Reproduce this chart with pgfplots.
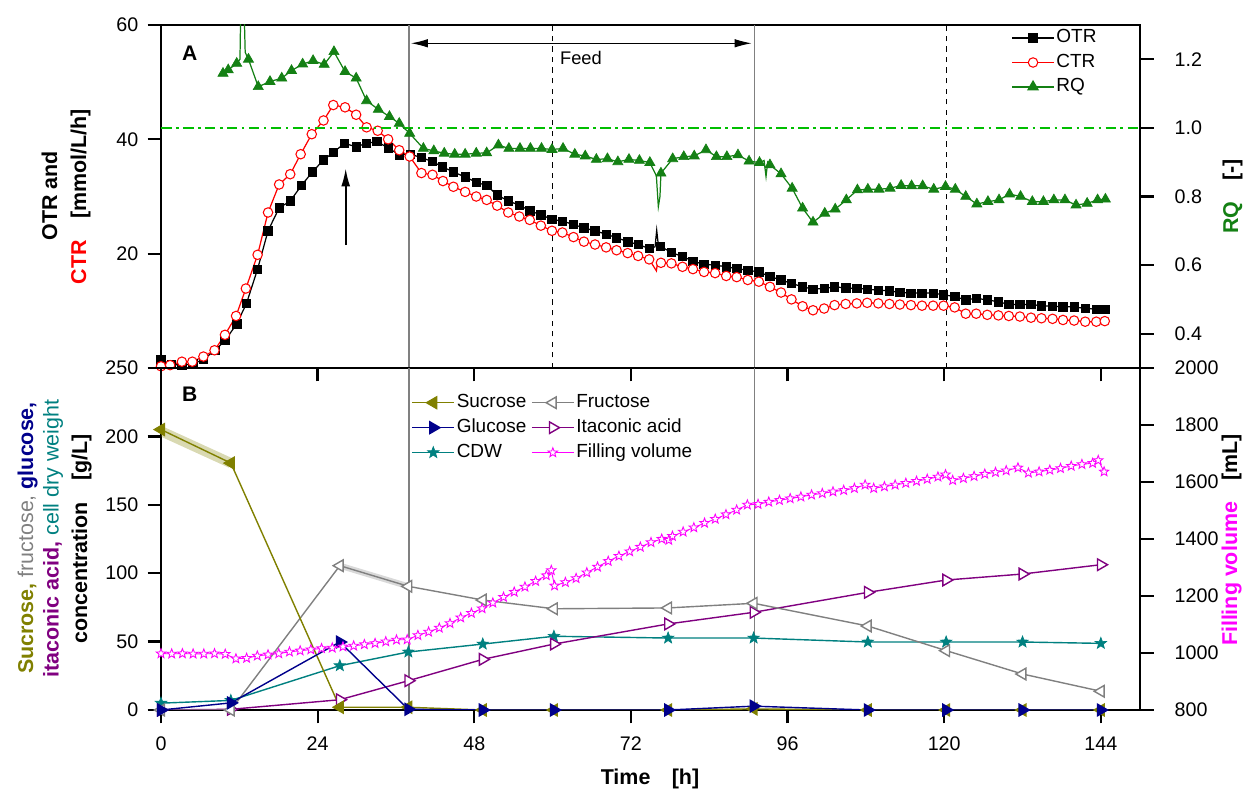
\documentclass[border=0pt]{standalone}
\usepackage{fontspec}
\setmainfont{Liberation Sans}
\usepackage{pgfplots}
\pgfplotsset{compat=1.18}
\usepackage{pgfplotstable}
\usetikzlibrary{arrows.meta,plotmarks}

\definecolor{rqgreen}{RGB}{20,128,20}
\definecolor{refgreen}{RGB}{0,190,0}
\definecolor{olivec}{RGB}{128,128,0}
\definecolor{grayc}{RGB}{128,128,128}
\definecolor{navyc}{RGB}{0,0,139}
\definecolor{purplec}{RGB}{128,0,128}
\definecolor{tealc}{RGB}{0,128,128}
\definecolor{magc}{RGB}{255,0,255}

\pgfdeclareplotmark{fivestar}{%
  \pgfpathmoveto{\pgfpointpolar{90}{\pgfplotmarksize}}%
  \pgfpathlineto{\pgfpointpolar{126}{0.42\pgfplotmarksize}}%
  \pgfpathlineto{\pgfpointpolar{162}{\pgfplotmarksize}}%
  \pgfpathlineto{\pgfpointpolar{198}{0.42\pgfplotmarksize}}%
  \pgfpathlineto{\pgfpointpolar{234}{\pgfplotmarksize}}%
  \pgfpathlineto{\pgfpointpolar{270}{0.42\pgfplotmarksize}}%
  \pgfpathlineto{\pgfpointpolar{306}{\pgfplotmarksize}}%
  \pgfpathlineto{\pgfpointpolar{342}{0.42\pgfplotmarksize}}%
  \pgfpathlineto{\pgfpointpolar{18}{\pgfplotmarksize}}%
  \pgfpathlineto{\pgfpointpolar{54}{0.42\pgfplotmarksize}}%
  \pgfpathclose
  \pgfusepathqfillstroke}

\pgfplotstableread{
t v m
0 1.4 1
1.6 0.6 1
3.2 0.5 1
4.9 0.7 1
6.5 1.5 1
8.3 3.1 1
9.8 4.8 1
11.6 7.7 1
13.1 11.3 1
14.8 17.3 1
16.4 24.0 1
18.1 28.0 1
19.8 29.2 1
21.5 31.9 1
23.2 34.3 1
24.9 36.4 1
26.4 37.7 1
28.1 39.3 1
29.9 38.7 1
31.5 39.3 1
33.1 39.6 1
34.8 38.5 1
36.5 37.3 1
38.2 37.4 1
39.9 36.8 1
41.6 36.1 1
43.1 35.2 1
44.8 34.3 1
46.6 33.4 1
48.3 32.5 1
49.9 31.9 1
51.5 30.3 1
53.2 29.2 1
54.9 28.5 1
56.5 27.5 1
58.2 26.8 1
59.9 26.0 1
61.5 25.7 1
63.2 25.1 1
64.8 24.5 1
66.5 24.0 1
68.2 23.4 1
69.8 22.8 1
71.5 22.1 1
73.1 21.6 1
74.8 20.9 1
75.7 21.2 0
75.95 24.1 0
76.2 21.5 0
76.5 21.3 1
78.2 20.2 1
79.9 19.5 1
81.5 18.7 1
83.2 18.1 1
84.9 18.0 1
86.6 17.7 1
88.2 17.4 1
89.9 17.1 1
91.6 16.8 1
93.3 16.0 1
95.0 15.4 1
96.6 14.8 1
98.3 14.2 1
99.9 13.8 1
101.6 13.9 1
103.2 14.2 1
104.9 14.0 1
106.6 13.9 1
108.2 13.8 1
109.9 13.6 1
111.6 13.5 1
113.2 13.2 1
114.9 13.1 1
116.6 13.1 1
118.3 13.1 1
119.9 12.8 1
121.6 12.5 1
123.3 11.9 1
124.9 12.2 1
126.6 11.9 1
128.3 11.6 1
129.9 11.1 1
131.6 11.1 1
133.3 11.1 1
134.9 10.9 1
136.6 10.8 1
138.2 10.7 1
139.9 10.7 1
141.6 10.4 1
143.3 10.3 1
144.6 10.3 1
}\otr

\pgfplotstableread{
t v m
0 0.3 1
1.4 0.5 1
3.2 1.1 1
4.8 1.1 1
6.5 2.0 1
8.2 3.1 1
9.8 5.8 1
11.5 9.1 1
13.0 13.9 1
14.8 19.8 1
16.4 27.2 1
18.1 32.1 1
19.8 33.9 1
21.4 37.4 1
23.1 40.9 1
24.9 43.3 1
26.4 46.0 1
28.2 45.6 1
29.9 44.3 1
31.5 42.1 1
33.2 41.5 1
34.8 40.0 1
36.5 38.1 1
38.1 37.0 1
39.9 34.1 1
41.6 33.8 1
43.2 32.7 1
44.8 31.7 1
46.6 30.8 1
48.3 30.0 1
49.9 29.4 1
51.5 28.4 1
53.2 27.2 1
54.9 26.5 1
56.5 25.9 1
58.2 24.9 1
59.9 24.0 1
61.5 23.7 1
63.2 22.9 1
64.8 22.1 1
66.5 21.6 1
68.2 21.1 1
69.8 20.6 1
71.5 20.1 1
73.1 19.6 1
74.8 19.0 1
75.9 17.0 0
76.1 18.6 0
76.6 18.4 1
78.2 18.3 1
79.9 17.7 1
81.5 17.3 1
83.2 16.8 1
84.9 16.6 1
86.6 16.1 1
88.2 15.9 1
89.9 15.4 1
91.6 15.1 1
93.3 14.2 1
95.0 13.2 1
96.6 12.0 1
98.3 10.8 1
99.9 10.1 1
101.6 10.4 1
103.2 11.0 1
104.9 11.2 1
106.6 11.3 1
108.2 11.4 1
109.9 11.3 1
111.6 11.2 1
113.2 11.1 1
114.9 11.0 1
116.6 10.9 1
118.3 10.9 1
119.9 10.9 1
121.6 10.6 1
123.3 9.5 1
124.9 9.5 1
126.6 9.3 1
128.3 9.2 1
129.9 9.1 1
131.6 9.0 1
133.3 8.8 1
134.9 8.7 1
136.6 8.6 1
138.2 8.4 1
139.9 8.3 1
141.6 8.1 1
143.3 8.1 1
144.6 8.2 1
}\ctr

\pgfplotstableread{
t v m
9.5 1.159 1
10.3 1.169 1
11.6 1.188 1
12.1 1.20 0
12.3 1.45 0
12.6 1.45 0
12.9 1.22 0
13.4 1.200 1
14.9 1.120 1
16.7 1.135 1
18.5 1.145 1
20.0 1.167 1
21.7 1.186 1
23.3 1.196 1
25.0 1.185 1
26.5 1.222 1
28.2 1.164 1
29.9 1.145 1
31.5 1.079 1
33.3 1.054 1
35.0 1.033 1
36.5 1.013 1
38.1 0.984 1
40.2 0.940 1
41.8 0.933 1
43.4 0.926 1
45.0 0.923 1
46.6 0.923 1
48.3 0.926 1
49.9 0.927 1
51.7 0.950 1
53.3 0.940 1
55.0 0.940 1
56.6 0.940 1
58.3 0.940 1
59.9 0.937 1
61.6 0.940 1
63.4 0.923 1
65.0 0.918 1
66.7 0.908 1
68.4 0.910 1
70.0 0.901 1
71.7 0.908 1
73.3 0.905 1
74.9 0.899 1
75.9 0.860 0
76.2 0.770 0
76.45 0.800 0
76.6 0.868 1
78.4 0.910 1
80.1 0.916 1
81.7 0.918 1
83.5 0.936 1
85.1 0.916 1
86.7 0.916 1
88.4 0.921 1
90.1 0.903 1
91.7 0.899 1
92.4 0.905 0
92.7 0.858 0
92.95 0.900 0
93.3 0.892 1
95.0 0.866 1
96.7 0.824 1
98.3 0.766 1
99.9 0.725 1
101.7 0.751 1
103.3 0.763 1
105.0 0.790 1
106.7 0.819 1
108.3 0.821 1
110.0 0.821 1
111.7 0.824 1
113.4 0.832 1
115.0 0.831 1
116.7 0.831 1
118.4 0.821 1
120.2 0.829 1
121.7 0.821 1
123.3 0.800 1
125.0 0.778 1
126.7 0.785 1
128.4 0.790 1
130.0 0.807 1
131.7 0.800 1
133.5 0.785 1
135.2 0.785 1
136.8 0.790 1
138.5 0.790 1
140.2 0.775 1
141.9 0.780 1
143.5 0.790 1
144.7 0.792 1
}\rq

\pgfplotstableread{
t suc fru glc ita cdw
0 205 0 0 0 5
10.7 180.5 0 5.2 0.5 7
27.4 2 105.5 49.7 7.5 32.4
37.9 2 90.4 0.5 21.4 42.4
49.3 0 80.4 0 37 48.2
60.2 0 74 0 48.2 53.9
77.7 0 74.6 0 62.9 52.6
90.8 0.8 78 2.8 71.4 52.6
108.3 0 61.4 0 86 49.7
120.3 0 43.4 0 95 49.7
132 0 26.3 0 99.4 49.7
144 0 13.7 0 106.2 48.7
}\samples

\pgfplotstableread{
t v
0 998
1.64 997
3.28 998
4.92 997
6.56 997
8.2 998
9.84 996
11.48 980
13.12 982
14.76 990
16.4 994
18.04 998
19.68 1004
21.32 1008
22.96 1012
24.6 1016
26.24 1018
27.88 1022
29.52 1025
31.16 1030
32.8 1034
34.44 1040
36.08 1046
37.72 1047
39.36 1062
41.0 1074
42.64 1088
44.28 1104
45.92 1124
47.56 1140
49.2 1156
50.84 1176
52.48 1196
54.12 1214
55.76 1232
57.4 1252
59.04 1272
59.8 1290
60.3 1236
61.96 1248
63.6 1262
65.24 1282
66.88 1302
68.52 1322
70.16 1340
71.8 1356
73.44 1372
75.08 1388
76.72 1400
77.8 1396
78.36 1410
80.0 1425
81.64 1440
83.28 1456
84.92 1470
86.56 1486
88.2 1502
89.84 1520
91.48 1522
93.12 1530
94.76 1536
96.4 1542
98.04 1548
99.68 1555
101.32 1560
102.96 1566
104.6 1571
106.24 1578
107.88 1590
109.2 1578
110.84 1584
112.48 1590
114.12 1596
115.76 1603
117.4 1610
119.04 1618
120.2 1626
121.3 1606
122.94 1613
124.58 1620
126.22 1628
127.86 1634
129.5 1640
131.3 1650
132.9 1632
134.54 1636
136.18 1642
137.82 1648
139.46 1656
141.1 1662
142.74 1666
143.6 1676
144.5 1636
}\fill

\pgfplotsset{
  every axis/.append style={
    scale only axis, width=19.58cm, xmin=0, xmax=150,
    tick align=outside, major tick length=0.27cm,
    axis line style={line width=1.3pt},
    every tick/.style={line width=1.3pt, black},
    tick label style={font=\fontsize{11.2}{13}\selectfont},
    /pgf/number format/assume math mode=true,
    /pgf/number format/1000 sep={},
    minor tick num=0,
    legend image code/.code={\draw[mark repeat=2,mark phase=2] plot coordinates {(0cm,0cm)(0.42cm,0cm)(0.84cm,0cm)};},
  },
  otrl/.style={black, line width=0.7pt},
  otrm/.style={black, mark=square*, mark size=2.4pt, mark options={solid, fill=black}},
  ctrl/.style={red, line width=0.7pt},
  ctrm/.style={red, mark=*, mark size=2.7pt, mark options={solid, fill=white, draw=red, line width=0.6pt}},
  rql/.style={rqgreen, line width=0.7pt},
  rqm/.style={rqgreen, mark=triangle*, mark size=3.3pt, mark options={solid, fill=rqgreen}},
  sucs/.style={olivec, line width=0.8pt, mark=triangle*, mark size=3.8pt, mark options={rotate=90, fill=olivec}},
  frus/.style={grayc, line width=0.8pt, mark=triangle*, mark size=3.8pt, mark options={rotate=90, fill=white, draw=grayc}},
  glcs/.style={navyc, line width=0.8pt, mark=triangle*, mark size=3.8pt, mark options={rotate=-90, fill=navyc}},
  itas/.style={purplec, line width=0.8pt, mark=triangle*, mark size=3.8pt, mark options={rotate=-90, fill=white, draw=purplec}},
  cdws/.style={tealc, line width=0.8pt, mark=fivestar, mark size=3.4pt, mark options={fill=tealc, draw=tealc, line width=0.4pt}},
  fils/.style={magc, line width=0.5pt, mark=fivestar, mark size=2.8pt, mark options={fill=white, draw=magc, line width=0.5pt}},
}

\begin{document}
\begin{tikzpicture}
\useasboundingbox (0,0) rectangle (24.88cm,15.82cm);

% ---------------- Panel A, left axis ----------------
\begin{axis}[at={(3.22cm,8.46cm)}, anchor=south west, height=6.86cm,
  ymin=0, ymax=60, ytick={20,40,60},
  yticklabel style={xshift=-0.06cm},
  xtick={0,24,...,144}, xticklabels={}, xtick pos=bottom, ytick pos=left,
  legend style={at={(0.8683,0.9985)}, anchor=north west, draw=none, fill=none,
    font=\fontsize{10.8}{12}\selectfont, inner sep=0pt,
    nodes={inner sep=1pt, text height=8.6pt, text depth=3.3pt}, row sep=0pt},
  legend cell align=left]
  \addlegendimage{otrl, otrm}\addlegendentry{OTR}
  \addlegendimage{ctrl, ctrm}\addlegendentry{CTR}
  \addlegendimage{rql, rqm}\addlegendentry{RQ}
  \draw[gray, line width=0.6pt] (axis cs:38,0) -- (axis cs:38,60);
  \draw[gray, line width=0.6pt] (axis cs:91,0) -- (axis cs:91,60);
  \draw[black, dashed, line width=0.6pt] (axis cs:60,0) -- (axis cs:60,60);
  \draw[black, dashed, line width=0.6pt] (axis cs:120.3,0) -- (axis cs:120.3,60);
  \draw[line width=0.6pt, {Latex[length=0.34cm,width=0.17cm]}-{Latex[length=0.34cm,width=0.17cm]}] (axis cs:38.3,56.8) -- (axis cs:90.5,56.8);
  \draw[line width=1pt, -{Latex[length=0.36cm,width=0.18cm]}] (axis cs:28.3,21.5) -- (axis cs:28.3,34.9);
  \node[anchor=west, inner sep=0pt, font=\fontsize{10.4}{12}\selectfont] at (axis cs:61.1,54.3) {Feed};
  \node[inner sep=0pt, font=\fontsize{12}{14}\selectfont\bfseries] at (axis cs:4.4,55.0) {A};
  \addplot[otrl, forget plot] table[x=t,y=v]{\otr};
  \addplot[otrm, only marks, forget plot, restrict expr to domain={\thisrow{m}}{0.5:1.5}] table[x=t,y=v]{\otr};
  \addplot[ctrl, forget plot] table[x=t,y=v]{\ctr};
  \addplot[ctrm, only marks, forget plot, restrict expr to domain={\thisrow{m}}{0.5:1.5}] table[x=t,y=v]{\ctr};
\end{axis}

% ---------------- Panel A, right axis ----------------
\begin{axis}[at={(3.22cm,8.46cm)}, anchor=south west, height=6.86cm,
  ymin=0.3, ymax=1.3, axis y line*=right, axis x line=none,
  ytick={0.4,0.6,0.8,1.0,1.2},
  yticklabel style={xshift=0.3cm, /pgf/number format/.cd, fixed, fixed zerofill, precision=1}]
  \addplot[color=refgreen, solid, line width=0.7pt, dash pattern=on 6pt off 2.5pt on 1.5pt off 2.5pt, forget plot] coordinates {(0,1) (150,1)};
  \addplot[rql, forget plot] table[x=t,y=v]{\rq};
  \addplot[rqm, only marks, forget plot, restrict expr to domain={\thisrow{m}}{0.5:1.5}] table[x=t,y=v]{\rq};
\end{axis}

% ---------------- Panel B, left axis ----------------
\begin{axis}[at={(3.22cm,1.62cm)}, anchor=south west, height=6.84cm,
  ymin=0, ymax=250, ytick={0,50,...,250},
  yticklabel style={xshift=-0.06cm},
  xticklabel style={yshift=-0.15cm},
  xtick={0,24,...,144}, xtick pos=bottom, ytick pos=left,
  legend columns=2,
  legend style={at={(0.2556,0.936)}, anchor=north west, draw=none, fill=none,
    font=\fontsize{10.8}{12}\selectfont, inner sep=0pt,
    nodes={inner sep=1pt, text height=8.8pt, text depth=3.4pt}, row sep=0pt,
    /tikz/every even column/.append style={column sep=0.06cm}},
  legend cell align=left]
  \addlegendimage{sucs}\addlegendentry{Sucrose}
  \addlegendimage{frus}\addlegendentry{Fructose}
  \addlegendimage{glcs}\addlegendentry{Glucose}
  \addlegendimage{itas}\addlegendentry{Itaconic acid}
  \addlegendimage{cdws}\addlegendentry{CDW}
  \addlegendimage{fils}\addlegendentry{Filling volume}
  \draw[gray, line width=0.6pt] (axis cs:38,0) -- (axis cs:38,250);
  \draw[gray, line width=0.6pt] (axis cs:91,0) -- (axis cs:91,250);
  \node[inner sep=0pt, font=\fontsize{12}{14}\selectfont\bfseries] at (axis cs:4.4,230.6) {B};
  \addplot[olivec, opacity=0.3, line width=0.2cm, forget plot] coordinates {(-1,206)(10.7,180.5)};
  \addplot[grayc, opacity=0.3, line width=0.12cm, forget plot] coordinates {(27.4,105.5)(37.9,90.4)};
  \addplot[cdws, forget plot] table[x=t,y=cdw]{\samples};
  \addplot[itas, forget plot] table[x=t,y=ita]{\samples};
  \addplot[frus, forget plot] table[x=t,y=fru]{\samples};
  \addplot[sucs, forget plot] table[x=t,y=suc]{\samples};
  \addplot[glcs, forget plot] table[x=t,y=glc]{\samples};
\end{axis}

% ---------------- Panel B, right axis ----------------
\begin{axis}[at={(3.22cm,1.62cm)}, anchor=south west, height=6.84cm,
  ymin=800, ymax=2000, axis y line*=right, axis x line=none,
  yticklabel style={xshift=0.3cm},
  ytick={800,1000,...,2000}]
  \addplot[fils, forget plot] table[x=t,y=v]{\fill};
\end{axis}

% ---------------- axis titles ----------------
\node[rotate=90, anchor=base, inner sep=0pt, font=\fontsize{12.2}{14}\selectfont\bfseries] at (1.14cm,11.9cm) {OTR and};
\node[rotate=90, anchor=base, inner sep=0pt, font=\fontsize{12.2}{14}\selectfont\bfseries] at (1.72cm,11.89cm) {\textcolor{red}{CTR}\hspace{1em}[mmol/L/h]};

\node[rotate=90, anchor=base, inner sep=0pt, font=\fontsize{12.2}{14}\selectfont] at (0.66cm,5.06cm) {\textbf{\color{olivec}Sucrose,} {\color{grayc}fructose,} \textbf{\color{navyc}glucose,}};
\node[rotate=90, anchor=base, inner sep=0pt, font=\fontsize{12.2}{14}\selectfont] at (1.17cm,5.05cm) {\textbf{\color{purplec}itaconic acid,} {\color{tealc}cell dry weight}};
\node[rotate=90, anchor=base, inner sep=0pt, font=\fontsize{12.2}{14}\selectfont\bfseries] at (1.74cm,5.04cm) {concentration\hspace{1em}[g/L]};

\node[rotate=90, anchor=base, inner sep=0pt, font=\fontsize{12.2}{14}\selectfont\bfseries] at (24.76cm,11.89cm) {\textcolor{rqgreen}{RQ}\hspace{1em}[-]};
\node[rotate=90, anchor=base, inner sep=0pt, font=\fontsize{12.2}{14}\selectfont\bfseries] at (24.74cm,5.02cm) {\textcolor{magc}{Filling volume}\hspace{1em}[mL]};

\node[anchor=base, inner sep=0pt, font=\fontsize{12.2}{14}\selectfont\bfseries] at (13.0cm,0.12cm) {Time\hspace{1em}[h]};
\end{tikzpicture}
\end{document}
